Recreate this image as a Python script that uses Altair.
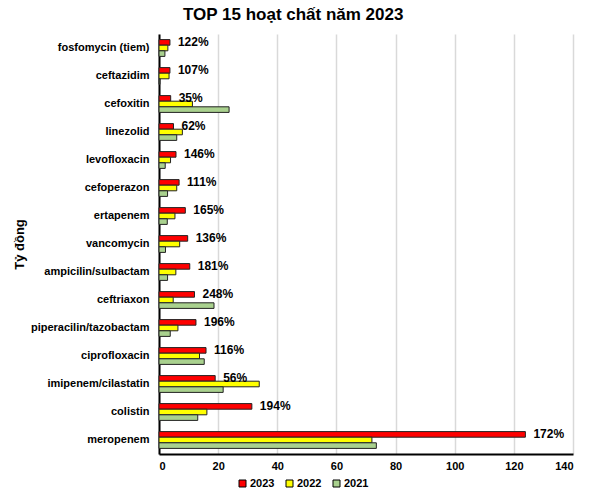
import altair as alt
import pandas as pd

categories = ["fosfomycin (tiem)", "ceftazidim", "cefoxitin", "linezolid", "levofloxacin",
              "cefoperazon", "ertapenem", "vancomycin", "ampicilin/sulbactam", "ceftriaxon",
              "piperacilin/tazobactam", "ciprofloxacin", "imipenem/cilastatin", "colistin", "meropenem"]
v2023 = [3.7, 3.7, 3.95, 4.9, 5.75, 6.8, 8.9, 9.7, 10.4, 12.0, 12.5, 15.9, 19.0, 31.4, 123.9]
v2022 = [3.0, 3.4, 11.3, 7.9, 3.9, 6.0, 5.4, 7.0, 5.7, 4.8, 6.4, 13.7, 33.9, 16.2, 72.0]
v2021 = [2.0, 0.3, 23.7, 6.0, 2.1, 2.9, 2.8, 2.2, 2.9, 18.6, 3.8, 15.3, 21.7, 13.1, 73.5]
pct_labels = ["122%", "107%", "35%", "62%", "146%", "111%", "165%", "136%", "181%",
              "248%", "196%", "116%", "56%", "194%", "172%"]
years = ["2023", "2022", "2021"]
colors = ["#ff0000", "#ffff00", "#a9d18e"]

rows = []
for i, c in enumerate(categories):
    for y, vals in zip(years, [v2023, v2022, v2021]):
        rows.append({"cat": c, "year": y, "value": vals[i],
                     "pct": pct_labels[i] if y == "2023" else ""})
df = pd.DataFrame(rows)

FONT = "Liberation Sans"

y_enc = alt.Y("cat:N", sort=categories,
              scale=alt.Scale(paddingInner=0.4, paddingOuter=0.2),
              axis=alt.Axis(title="Tỷ đồng", titleFontSize=13, titleFont=FONT,
                            titleFontWeight="bold", titleColor="black", titlePadding=4,
                            labelFont=FONT, labelFontSize=11, labelFontWeight="bold",
                            labelColor="black", labelPadding=10, ticks=False,
                            domainColor="black", domainWidth=2, grid=False))
yoff = alt.YOffset("year:N", scale=alt.Scale(domain=years))

bars = alt.Chart(df).mark_bar(stroke="#222222", strokeWidth=1).encode(
    x=alt.X("value:Q", scale=alt.Scale(domain=[0, 140]),
            axis=alt.Axis(title=None, values=[0, 20, 40, 60, 80, 100, 120, 140],
                          labelFont=FONT, labelFontSize=11, labelFontWeight="bold",
                          labelColor="black", labelPadding=6, ticks=False,
                          domainColor="black", domainWidth=2,
                          grid=True, gridColor="#d9d9d9", gridWidth=1.5)),
    y=y_enc,
    yOffset=yoff,
    color=alt.Color("year:N", scale=alt.Scale(domain=years, range=colors),
                    legend=alt.Legend(title=None, orient="none", direction="horizontal",
                                      legendX=78, legendY=444, symbolType="square",
                                      symbolSize=49, symbolStrokeColor="black",
                                      symbolStrokeWidth=1, labelFont=FONT,
                                      labelFontSize=11, labelFontWeight="bold",
                                      labelColor="black", columnPadding=9,
                                      symbolOffset=0, labelOffset=2)),
)

text = alt.Chart(df[df["year"] == "2023"]).mark_text(
    align="left", baseline="middle", dx=8, font=FONT, fontSize=12,
    fontWeight="bold", color="black"
).encode(
    x="value:Q",
    y=alt.Y("cat:N", sort=categories),
    yOffset=yoff,
    text="pct:N",
)

chart = alt.layer(bars, text).properties(
    width=414, height=420,
    title=alt.TitleParams("TOP 15 hoạt chất năm 2023", font=FONT, fontSize=17,
                          fontWeight="bold", color="black", anchor="middle",
                          frame="bounds", offset=10),
    padding={"left": 13, "top": 6, "right": 5, "bottom": 5},
).configure_view(stroke=None)

chart.save("out.html", embed_options={"renderer": "svg", "actions": False})
